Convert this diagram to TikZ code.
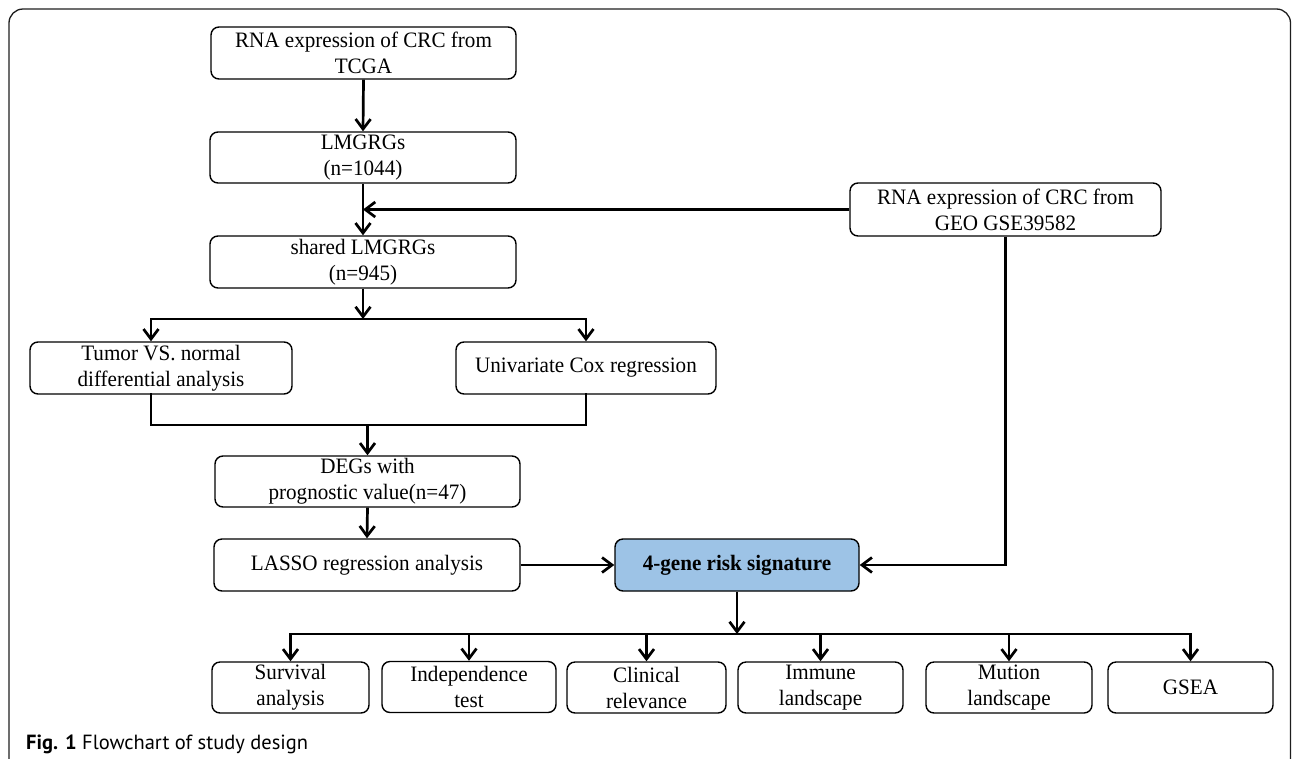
\documentclass[tikz,border=0pt]{standalone}
\usepackage{fontspec}
\setmainfont{Liberation Serif}[FakeStretch=0.96]
\newfontfamily\capfont{PT Sans}
\usetikzlibrary{arrows.meta}
\definecolor{sigblue}{RGB}{157,195,230}
\definecolor{framegray}{RGB}{30,30,30}
\begin{document}
\begin{tikzpicture}[x=1pt,y=-1pt,
  box/.style={draw, rounded corners=8pt, line width=1.4pt, align=center, inner sep=0pt,
    font=\fontsize{22}{26}\selectfont},
  ln/.style={line width=2.7pt, line cap=rect},
  arr/.style={line width=2.7pt, -{Straight Barb[length=10pt,width=15pt]}}]
\useasboundingbox (0,0) rectangle (1292,758);
% frame
\draw[framegray, line width=1.3pt, rounded corners=14pt] (9,760) -- (9,9) -- (1290.5,9) -- (1290.5,760);
% nodes
\node[box, minimum width=305pt, minimum height=52pt] (tcga) at (363.5,53) {RNA expression of CRC from\\TCGA};
\node[box, minimum width=306pt, minimum height=51pt] (lmg) at (363,157.5) {LMGRGs\\(n=1044)};
\node[box, minimum width=306pt, minimum height=52pt] (shared) at (363,262) {shared LMGRGs\\(n=945)};
\node[box, minimum width=262pt, minimum height=52pt] (tumor) at (161,368) {Tumor VS. normal\\differential analysis};
\node[box, minimum width=260pt, minimum height=52pt] (univ) at (586,368) {Univariate Cox regression};
\node[box, minimum width=305pt, minimum height=51pt] (degs) at (367.5,481.5) {DEGs with\\prognostic value(n=47)};
\node[box, minimum width=306pt, minimum height=52pt] (lasso) at (367,565) {LASSO regression analysis};
\node[box, fill=sigblue, minimum width=244pt, minimum height=52pt, font=\fontsize{22}{26}\selectfont\bfseries] (sig) at (737,565) {4-gene risk signature};
\node[box, minimum width=311pt, minimum height=53pt] (geo) at (1005.5,209.5) {RNA expression of CRC from\\GEO GSE39582};
\node[box, minimum width=157pt, minimum height=51pt] (surv) at (290.5,687.5) {Survival\\analysis};
\node[box, minimum width=174pt, minimum height=51pt] (indep) at (469,687) {Independence\\test};
\node[box, minimum width=159pt, minimum height=51pt] (clin) at (646.5,687.5) {Clinical\\relevance};
\node[box, minimum width=165pt, minimum height=51pt] (imm) at (820.5,687.5) {Immune\\landscape};
\node[box, minimum width=166pt, minimum height=51pt] (mut) at (1009,687.5) {Mution\\landscape};
\node[box, minimum width=165pt, minimum height=51pt] (gsea) at (1190.5,687.5) {GSEA};
% caption
\node[anchor=base west, inner sep=0pt, font=\capfont\fontsize{20.5}{24}\selectfont] (cap) at (26,749) {\textbf{Fig. 1} Flowchart of study design};
% connectors
\draw[arr] (tcga.south) -- (lmg.north);
\draw[arr] (lmg.south) -- (shared.north);
\draw[arr] (geo.west) -- (geo.west -| lmg.south);
\coordinate (j1) at (363,319);
\coordinate (tl) at (151,319);
\coordinate (tr) at (586,319);
\draw[arr] (shared.south) -- (j1);
\draw[ln] (tl) -- (tr);
\draw[arr] (tl) -- (tl |- tumor.north);
\draw[arr] (tr) -- (univ.north);
\coordinate (ml) at (151,425);
\coordinate (mr) at (586,425);
\draw[ln] (tl |- tumor.south) -- (ml) -- (mr) -- (univ.south);
\draw[arr] (degs.north |- ml) -- (degs.north);
\draw[arr] (degs.south) -- (lasso.north);
\draw[arr] (lasso.east) -- (sig.west);
\draw[arr] (geo.south) |- (sig.east);
\coordinate (b) at (737,634);
\draw[arr] (sig.south) -- (b);
\draw[ln] (surv.north |- b) -- (gsea.north |- b);
\foreach \n in {surv,indep,clin,imm,mut,gsea}{
  \draw[arr] (\n.north |- b) -- (\n.north);
}
\end{tikzpicture}
\end{document}
